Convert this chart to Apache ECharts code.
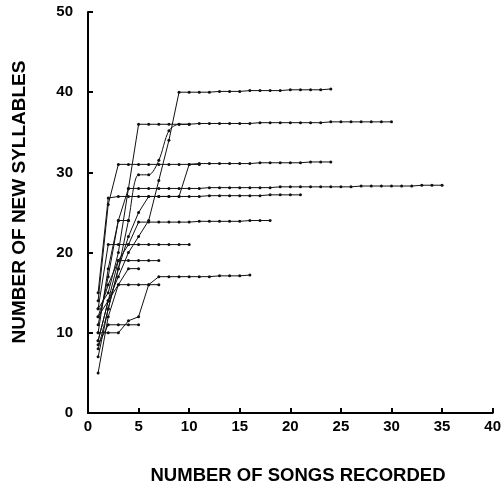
<!DOCTYPE html>
<html>
<head>
<meta charset="utf-8">
<script src="https://cdn.jsdelivr.net/npm/echarts@6/dist/echarts.min.js"></script>
<style>
html,body{margin:0;padding:0;background:#fff;}
#chart{width:504px;height:489px;}
</style>
</head>
<body>
<div id="chart"></div>
<script>
// Cumulative number of new syllables for songs 1..N (one array per bird)
var bird40 = [9,14,17,20,22,24,29,34,40,40,40,40,40.1,40.1,40.1,40.2,40.2,40.2,40.2,40.3,40.3,40.3,40.3,40.4];
var bird36a = [13,15,20,28,36,36,36,36,36,36,36.1,36.1,36.1,36.1,36.1,36.1,36.2,36.2,36.2,36.2,36.2,36.2,36.2,36.3,36.3,36.3,36.3,36.3,36.3,36.3];
var bird36b = [8,13,18,24,29.7,29.7,31.5,35.2,36,36];
var bird31 = [14,26,31,31,31,31,31,31,31,31,31.1,31.1,31.1,31.1,31.1,31.1,31.2,31.2,31.2,31.2,31.2,31.3,31.3,31.3];
var bird28 = [10,18,24,28,28,28,28,28,28,28,28,28.1,28.1,28.1,28.1,28.1,28.1,28.1,28.2,28.2,28.2,28.2,28.2,28.2,28.2,28.2,28.3,28.3,28.3,28.3,28.3,28.3,28.4,28.4,28.4];
var bird27 = [15,26.8,27,27,27,27,27,27,27,27,27,27.1,27.1,27.1,27.1,27.1,27.1,27.2,27.2,27.2,27.2];
var bird27to31 = [7,13,18,22,25,27,27,27,27,31,31];
var bird24 = [12,16,19,21,23.8,23.8,23.8,23.8,23.8,23.8,23.9,23.9,23.9,23.9,23.9,24,24,24];
var bird24b = [11,17,24,24];
var bird21 = [13,21,21,21,21,21,21,21,21,21];
var bird19 = [9,14,19,19,19,19,19];
var bird18 = [12,14,16,18,18];
var bird17 = [5,12,16,16,16,16,17,17,17,17,17,17,17.1,17.1,17.1,17.2];
var bird11 = [8.5,11,11,11,11];
var bird10 = [10,10,10,11.5,12,16,16];

var birds = [bird40,bird36a,bird36b,bird31,bird28,bird27,bird27to31,bird24,bird24b,bird21,bird19,bird18,bird17,bird11,bird10];
var smoothFlags = [false,false,true,false,false,false,false,false,false,false,false,false,false,false,false];

var xTicks = [0,5,10,15,20,25,30,35,40];
var yTicks = [0,10,20,30,40,50];

var FONT = '"Liberation Sans", Arial, Helvetica, sans-serif';

var series = birds.map(function(arr, i){
  return {
    type: 'line',
    data: arr.map(function(v, k){ return [k + 1, v]; }),
    smooth: smoothFlags[i] ? 0.3 : false,
    symbol: 'circle',
    symbolSize: 3,
    showSymbol: true,
    lineStyle: {color: '#111', width: 1},
    itemStyle: {color: '#111'},
    animation: false,
    silent: true
  };
});

var chart = echarts.init(document.getElementById('chart'), null, {renderer: 'canvas'});
chart.setOption({
  backgroundColor: '#fff',
  animation: false,
  grid: {left: 88, right: 7, top: 12, bottom: 76, containLabel: false},
  xAxis: {
    type: 'value', min: xTicks[0], max: xTicks[xTicks.length-1], interval: 5,
    axisLine: {show: true, onZero: false, lineStyle: {color: '#000', width: 2}},
    axisTick: {show: true, inside: true, length: 5, lineStyle: {color: '#000', width: 2}},
    axisLabel: {color: '#000', fontWeight: 'bold', fontSize: 15, fontFamily: FONT, margin: 6},
    splitLine: {show: false}
  },
  yAxis: {
    type: 'value', min: yTicks[0], max: yTicks[yTicks.length-1], interval: 10,
    axisLine: {show: true, onZero: false, lineStyle: {color: '#000', width: 2}},
    axisTick: {show: true, inside: true, length: 5, lineStyle: {color: '#000', width: 2}},
    axisLabel: {color: '#000', fontWeight: 'bold', fontSize: 15, fontFamily: FONT, margin: 15},
    splitLine: {show: false}
  },
  graphic: [
    {type: 'text', x: 298, y: 476, style: {text: 'NUMBER OF SONGS RECORDED', fill: '#000', font: 'bold 18.5px ' + FONT, textAlign: 'center', textVerticalAlign: 'middle'}},
    {type: 'text', x: 20, y: 202, rotation: Math.PI / 2, style: {text: 'NUMBER OF NEW SYLLABLES', fill: '#000', font: 'bold 19px ' + FONT, textAlign: 'center', textVerticalAlign: 'middle'}}
  ],
  series: series
});
</script>
</body>
</html>
